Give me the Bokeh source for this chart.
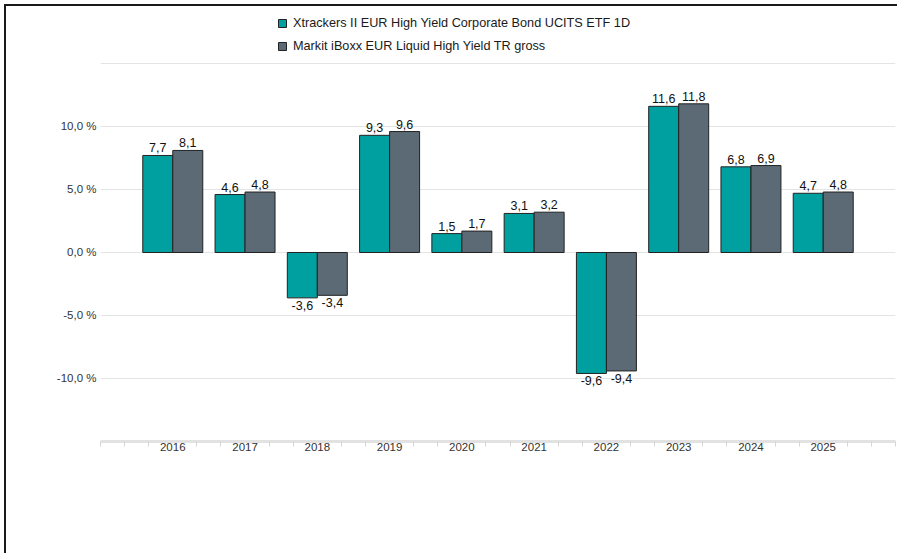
from bokeh.plotting import figure
from bokeh.models import (ColumnDataSource, Range1d, FixedTicker, Legend, LegendItem)
from bokeh.core.properties import value
from bokeh.embed import file_html
from bokeh.resources import INLINE

years = [2016, 2017, 2018, 2019, 2020, 2021, 2022, 2023, 2024, 2025]
etf = [7.7, 4.6, -3.6, 9.3, 1.5, 3.1, -9.6, 11.6, 6.8, 4.7]
index = [8.1, 4.8, -3.4, 9.6, 1.7, 3.2, -9.4, 11.8, 6.9, 4.8]
series_names = ["Xtrackers II EUR High Yield Corporate Bond UCITS ETF 1D",
                "Markit iBoxx EUR Liquid High Yield TR gross"]
y_ticks = [-10, -5, 0, 5, 10]
y_tick_labels = ["-10,0 %", "-5,0 %", "0,0 %", "5,0 %", "10,0 %"]
y_grid = [-15, -10, -5, 0, 5, 10, 15]

TEAL = "#00A0A0"
SLATE = "#5B6A75"
FONT = "Liberation Sans"
BW = 0.415

def fmt(v):
    return ("%.1f" % v).replace(".", ",")

src = ColumnDataSource(dict(x1=[y - BW / 2 for y in years], x2=[y + BW / 2 for y in years],
                            etf=etf, index=index))

# frame spans 433 px vertically at 12.6 px per percent; top part holds the legend
p = figure(width=893, height=549, output_backend="svg", toolbar_location=None,
           x_range=Range1d(years[0] - 1, years[-1] + 1), y_range=Range1d(-15, 19.365),
           min_border_left=94, min_border_right=4, min_border_top=2, min_border_bottom=114)
p.styles = {"margin-left": "4px", "margin-top": "4px",
            "border-top": "2px solid #1a1a1a", "border-left": "2px solid #1a1a1a"}
p.outline_line_color = None
p.background_fill_color = "white"
p.border_fill_color = "white"

r1 = p.vbar(x="x1", top="etf", bottom=0, width=BW,
            source=src, fill_color=TEAL, line_color="#222222", line_width=1)
r2 = p.vbar(x="x2", top="index", bottom=0, width=BW,
            source=src, fill_color=SLATE, line_color="#222222", line_width=1)

# value labels
for vals, off in ((etf, -BW / 2), (index, BW / 2)):
    pos = dict(x=[y + off for y, v in zip(years, vals) if v >= 0],
               y=[v for v in vals if v >= 0],
               t=[fmt(v) for v in vals if v >= 0])
    neg = dict(x=[y + off for y, v in zip(years, vals) if v < 0],
               y=[v for v in vals if v < 0],
               t=[fmt(v) for v in vals if v < 0])
    p.text(x="x", y="y", text="t", source=ColumnDataSource(pos), text_align="center",
           text_baseline="bottom", y_offset=-3, text_font=value(FONT),
           text_font_size="12.5px", text_color="#111111")
    p.text(x="x", y="y", text="t", source=ColumnDataSource(neg), text_align="center",
           text_baseline="top", y_offset=3, text_font=value(FONT),
           text_font_size="12.5px", text_color="#111111")

# y axis
p.yaxis.ticker = FixedTicker(ticks=y_ticks)
p.yaxis.major_label_overrides = {t: l for t, l in zip(y_ticks, y_tick_labels)}
p.yaxis.axis_line_color = None
p.yaxis.major_tick_line_color = None
p.yaxis.minor_tick_line_color = None
p.yaxis.major_tick_out = 0
p.yaxis.major_tick_in = 0
p.yaxis.major_label_standoff = 4
p.yaxis.major_label_text_font = FONT
p.yaxis.major_label_text_font_size = "11.5px"
p.yaxis.major_label_text_color = "#333333"
p.ygrid.ticker = FixedTicker(ticks=y_grid)
p.ygrid.grid_line_color = "#e4e4e4"
p.ygrid.grid_line_width = 1
p.xgrid.grid_line_color = None

# x axis
minor = []
for k in range((len(years) + 1) * 3 + 1):
    t = years[0] - 1 + k / 3
    if abs(t - round(t)) < 1e-6 and years[0] <= round(t) <= years[-1]:
        continue
    minor.append(t)
p.xaxis.ticker = FixedTicker(ticks=years, minor_ticks=minor)
p.xaxis.axis_line_color = "#e2e2e2"
p.xaxis.axis_line_width = 3
p.xaxis.major_tick_line_color = None
p.xaxis.major_tick_out = 0
p.xaxis.major_tick_in = 0
p.xaxis.minor_tick_line_color = "#d6d6d6"
p.xaxis.minor_tick_in = 0
p.xaxis.minor_tick_out = 5
p.xaxis.major_label_standoff = -4
p.xaxis.major_label_text_font = FONT
p.xaxis.major_label_text_font_size = "11.5px"
p.xaxis.major_label_text_color = "#333333"

legend = Legend(items=[LegendItem(label=series_names[0], renderers=[r1]),
                       LegendItem(label=series_names[1], renderers=[r2])],
                location=(177, 386), orientation="vertical", padding=0, margin=0,
                spacing=4, glyph_height=10, glyph_width=10, label_height=19,
                label_standoff=6, label_text_font=FONT, label_text_font_size="12.7px",
                label_text_color="#1a1a1a", border_line_color=None,
                background_fill_alpha=0)
p.add_layout(legend, "center")

open("out.html", "w").write(file_html(p, INLINE))
